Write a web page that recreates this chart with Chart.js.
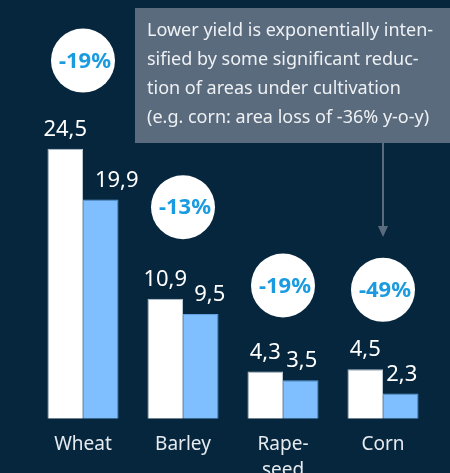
<!DOCTYPE html>
<html lang="en">
<head>
    <meta charset="UTF-8">
    <title>Yield</title>
    <script src="https://cdn.jsdelivr.net/npm/chart.js"></script>
    <style>
        html, body { margin: 0; padding: 0; background: #06263d; overflow: hidden; }
        #wrap { width: 450px; height: 496px; position: relative; }
    </style>
</head>
<body>
    <div id="wrap"><canvas id="yieldChart"></canvas></div>

    <script>
        // Data
        const categories = ['Wheat', 'Barley', ['Rape-', 'seed'], 'Corn'];
        const previousYield = [24.5, 10.9, 4.3, 4.5];
        const currentYield = [19.9, 9.5, 3.5, 2.3];
        const changeLabels = ['-19%', '-13%', '-19%', '-49%'];
        const badgeLevels = [32.5, 19.2, 12.1, 11.7];
        const calloutLines = [
            'Lower yield is exponentially inten-',
            'sified by some significant reduc-',
            'tion of areas under cultivation',
            '(e.g. corn: area loss of -36% y-o-y)'
        ];

        const FONT = '"Noto Sans", "Open Sans", sans-serif';
        const fmt = v => v.toFixed(1).replace('.', ',');
        const blueLabelShift = [16, 9, 1, 1];

        // value labels over bars, badge text, callout box
        const overlay = {
            id: 'overlay',
            afterDatasetsDraw(chart) {
                const ctx = chart.ctx;
                ctx.save();

                // values above bars
                ctx.font = '22px ' + FONT;
                ctx.fillStyle = '#ffffff';
                ctx.textAlign = 'center';
                ctx.textBaseline = 'bottom';
                [0, 1].forEach(di => {
                    chart.getDatasetMeta(di).data.forEach((bar, i) => {
                        const v = chart.data.datasets[di].data[i];
                        const dx = di === 1 ? blueLabelShift[i] : 0;
                        ctx.fillText(fmt(v), bar.x + dx, bar.y - 8);
                    });
                });

                // percent text in badges
                ctx.font = 'bold 22px ' + FONT;
                ctx.fillStyle = '#1a9be0';
                ctx.textBaseline = 'middle';
                chart.getDatasetMeta(2).data.forEach((pt, i) => {
                    ctx.fillText(changeLabels[i], pt.x + 2, pt.y + 1);
                });

                // callout box
                ctx.fillStyle = '#5b6b7e';
                ctx.fillRect(135, 8, 320, 135);
                ctx.fillStyle = '#eef1f4';
                ctx.font = '18px ' + FONT;
                ctx.textAlign = 'left';
                calloutLines.forEach((line, i) => {
                    ctx.fillText(line, 147, 31 + i * 29);
                });

                // arrow to corn
                const ax = chart.scales.x.getPixelForValue(3);
                const tipY = chart.scales.y.getPixelForValue(16.5);
                ctx.strokeStyle = '#5b6b7e';
                ctx.lineWidth = 2;
                ctx.beginPath();
                ctx.moveTo(ax, 143);
                ctx.lineTo(ax, tipY - 10);
                ctx.stroke();
                ctx.fillStyle = '#5b6b7e';
                ctx.beginPath();
                ctx.moveTo(ax - 5, tipY - 11);
                ctx.lineTo(ax + 5, tipY - 11);
                ctx.lineTo(ax, tipY);
                ctx.closePath();
                ctx.fill();

                ctx.restore();
            }
        };

        new Chart(document.getElementById('yieldChart'), {
            data: {
                labels: categories,
                datasets: [
                    {
                        type: 'bar',
                        data: previousYield,
                        backgroundColor: '#ffffff',
                        borderColor: '#b9c7d3',
                        borderWidth: 1,
                        categoryPercentage: 0.71,
                        barPercentage: 1
                    },
                    {
                        type: 'bar',
                        data: currentYield,
                        backgroundColor: '#7fbfff',
                        borderColor: '#5f9fdf',
                        borderWidth: 1,
                        categoryPercentage: 0.71,
                        barPercentage: 1
                    },
                    {
                        type: 'scatter',
                        data: badgeLevels.map((y, i) => ({ x: i, y: y })),
                        pointRadius: 32,
                        pointHoverRadius: 32,
                        backgroundColor: '#ffffff',
                        borderWidth: 0,
                        clip: false
                    }
                ]
            },
            options: {
                responsive: true,
                maintainAspectRatio: false,
                animation: false,
                layout: { autoPadding: false, padding: { left: 33, right: 17, top: 0, bottom: 0 } },
                plugins: {
                    legend: { display: false },
                    tooltip: { enabled: false }
                },
                scales: {
                    x: {
                        type: 'category',
                        grid: { display: false, drawTicks: false },
                        border: { display: false },
                        ticks: {
                            color: '#e6ebf0',
                            font: { family: FONT, size: 19, lineHeight: 1.4 },
                            padding: 12,
                            maxRotation: 0
                        }
                    },
                    y: {
                        display: false,
                        min: 0,
                        max: 38
                    }
                }
            },
            plugins: [overlay]
        });
    </script>
</body>
</html>
